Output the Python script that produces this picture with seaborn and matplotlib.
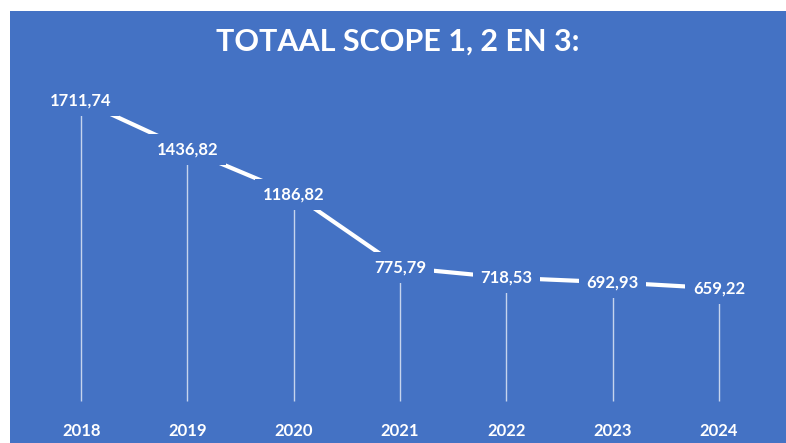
import pandas as pd
import seaborn as sns
import matplotlib.pyplot as plt
from matplotlib.patches import Rectangle

# Data
years = ['2018', '2019', '2020', '2021', '2022', '2023', '2024']
totals = [1711.74, 1436.82, 1186.82, 775.79, 718.53, 692.93, 659.22]
title = 'TOTAAL SCOPE 1, 2 EN 3:'

df = pd.DataFrame({'Jaar': years, 'Totaal': totals})

blue = '#4472C4'

sns.set_style('white')
plt.rcParams['font.family'] = ['Lato', 'DejaVu Sans']

fig = plt.figure(figsize=(7.86, 4.43), dpi=100)
fig.patch.set_facecolor('white')
# blue chart area with a small white margin at top/left
fig.patches.append(Rectangle((10 / 786, 0), 776 / 786, 432 / 443,
                             transform=fig.transFigure, facecolor=blue,
                             edgecolor='none', zorder=-5))

ax = fig.add_axes([28 / 786, 37 / 443, 744 / 786, 357 / 443])
ax.set_facecolor('none')
ax.set_zorder(2)

# drop lines
for i, v in enumerate(df['Totaal']):
    ax.vlines(i, 30, v, color='white', linewidth=1, alpha=0.7, zorder=1)

sns.lineplot(data=df, x='Jaar', y='Totaal', ax=ax, color='white',
             linewidth=3, sort=False, zorder=2)

# data labels
for i, v in enumerate(df['Totaal']):
    ax.text(i, v, f'{v:.2f}'.replace('.', ','), ha='center', va='center',
            color='white', fontsize=12, fontweight='bold', zorder=3,
            bbox=dict(boxstyle='square,pad=0.45', facecolor=blue, edgecolor='none'))

ax.set_xlim(-0.5, len(years) - 0.5)
ax.set_ylim(0, 2000)
ax.set_yticks([])
ax.set_xlabel('')
ax.set_ylabel('')
ax.tick_params(axis='x', length=0, colors='white', labelsize=12, pad=12)
for lab in ax.get_xticklabels():
    lab.set_fontweight('bold')
for s in ax.spines.values():
    s.set_visible(False)

fig.text(398 / 786, 1 - 42 / 443, title, ha='center', va='center',
         color='white', fontsize=22, fontweight='bold', zorder=3)

plt.savefig('out.png', dpi=100)
